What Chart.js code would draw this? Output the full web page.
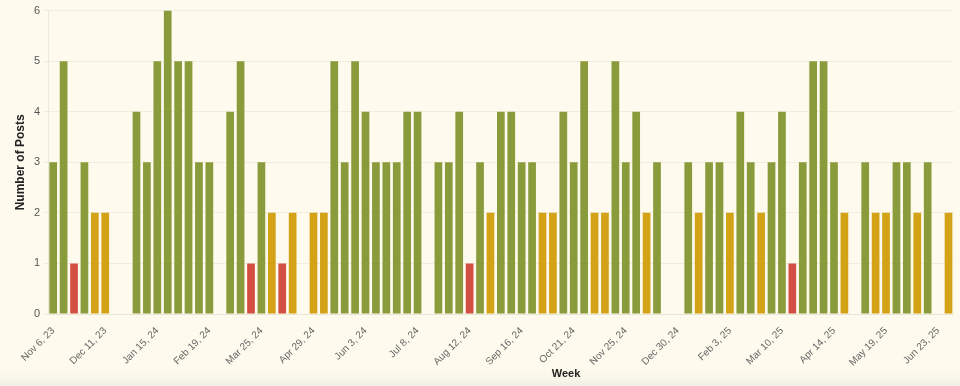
<!DOCTYPE html>
<html>
<head>
<meta charset="utf-8">
<script src="https://cdn.jsdelivr.net/npm/chart.js@4"></script>
<style>
    html, body { margin: 0; padding: 0; }
    body {
        width: 960px;
        height: 386px;
        background: linear-gradient(to bottom, #fefbee 0px, #fefbee 370px, #f1efe6 386px);
    }
    #wrap { position: relative; width: 960px; height: 386px; }
</style>
</head>
<body>
<div id="wrap"><canvas id="postsChart"></canvas></div>
<script>
// weekly post counts, week starting dates
const weeks = [
    'Nov 6, 23', 'Nov 13, 23', 'Nov 20, 23', 'Nov 27, 23', 'Dec 4, 23', 'Dec 11, 23', 'Dec 18, 23', 'Dec 25, 23',
    'Jan 1, 24', 'Jan 8, 24', 'Jan 15, 24', 'Jan 22, 24', 'Jan 29, 24', 'Feb 5, 24', 'Feb 12, 24', 'Feb 19, 24',
    'Feb 26, 24', 'Mar 4, 24', 'Mar 11, 24', 'Mar 18, 24', 'Mar 25, 24', 'Apr 1, 24', 'Apr 8, 24', 'Apr 15, 24',
    'Apr 22, 24', 'Apr 29, 24', 'May 6, 24', 'May 13, 24', 'May 20, 24', 'May 27, 24', 'Jun 3, 24', 'Jun 10, 24',
    'Jun 17, 24', 'Jun 24, 24', 'Jul 1, 24', 'Jul 8, 24', 'Jul 15, 24', 'Jul 22, 24', 'Jul 29, 24', 'Aug 5, 24',
    'Aug 12, 24', 'Aug 19, 24', 'Aug 26, 24', 'Sep 2, 24', 'Sep 9, 24', 'Sep 16, 24', 'Sep 23, 24', 'Sep 30, 24',
    'Oct 7, 24', 'Oct 14, 24', 'Oct 21, 24', 'Oct 28, 24', 'Nov 4, 24', 'Nov 11, 24', 'Nov 18, 24', 'Nov 25, 24',
    'Dec 2, 24', 'Dec 9, 24', 'Dec 16, 24', 'Dec 23, 24', 'Dec 30, 24', 'Jan 6, 25', 'Jan 13, 25', 'Jan 20, 25',
    'Jan 27, 25', 'Feb 3, 25', 'Feb 10, 25', 'Feb 17, 25', 'Feb 24, 25', 'Mar 3, 25', 'Mar 10, 25', 'Mar 17, 25',
    'Mar 24, 25', 'Mar 31, 25', 'Apr 7, 25', 'Apr 14, 25', 'Apr 21, 25', 'Apr 28, 25', 'May 5, 25', 'May 12, 25',
    'May 19, 25', 'May 26, 25', 'Jun 2, 25', 'Jun 9, 25', 'Jun 16, 25', 'Jun 23, 25', 'Jun 30, 25'
];

const posts = [
    3, 5, 1, 3, 2, 2, 0, 0, 4, 3, 5, 6, 5, 5, 3, 3,
    0, 4, 5, 1, 3, 2, 1, 2, 0, 2, 2, 5, 3, 5, 4, 3,
    3, 3, 4, 4, 0, 3, 3, 4, 1, 3, 2, 4, 4, 3, 3, 2,
    2, 4, 3, 5, 2, 2, 5, 3, 4, 2, 3, 0, 0, 3, 2, 3,
    3, 2, 4, 3, 2, 3, 4, 1, 3, 5, 5, 3, 2, 0, 3, 2,
    2, 3, 3, 2, 3, 0, 2
];

const yTicks = [0, 1, 2, 3, 4, 5, 6];

function barColor(v) {
    if (v <= 1) return '#d44f43';
    if (v === 2) return '#d3a217';
    return '#899b3b';
}

// "Week" sits right of the plot centre in the reference
const weekTitle = {
    id: 'weekTitle',
    afterDraw(chart) {
        const ctx = chart.ctx;
        ctx.save();
        ctx.font = 'bold 11px "Liberation Sans", Arial, sans-serif';
        ctx.fillStyle = '#222';
        ctx.textAlign = 'center';
        ctx.textBaseline = 'middle';
        ctx.fillText('Week', 566, 374);
        ctx.restore();
    }
};

const ctx = document.getElementById('postsChart').getContext('2d');
new Chart(ctx, {
    type: 'bar',
    data: {
        labels: weeks,
        datasets: [{
            label: 'Posts',
            data: posts,
            backgroundColor: posts.map(barColor),
            borderWidth: 0,
            categoryPercentage: 1.0,
            barPercentage: 0.74
        }]
    },
    options: {
        responsive: true,
        maintainAspectRatio: false,
        animation: false,
        layout: {
            padding: { top: 2, right: 2, left: 0, bottom: 0 }
        },
        plugins: {
            legend: { display: false },
            tooltip: { enabled: false }
        },
        scales: {
            x: {
                grid: { display: false },
                border: { display: true, color: '#e9e6d6' },
                ticks: {
                    autoSkip: false,
                    maxRotation: 45,
                    minRotation: 45,
                    color: '#666',
                    font: { family: '"Liberation Sans", Arial, sans-serif', size: 10 },
                    callback: function (value, index) {
                        return index % 5 === 0 ? weeks[index] : '';
                    }
                },
                afterFit: function (scale) {
                    scale.height = 72;
                }
            },
            y: {
                min: 0,
                max: 6,
                afterBuildTicks: function (scale) {
                    scale.ticks = yTicks.map(v => ({ value: v }));
                },
                grid: { color: '#f1eedf', drawTicks: true, tickLength: 4 },
                border: { display: true, color: '#ece9d8' },
                ticks: {
                    color: '#555',
                    padding: 4,
                    font: { family: '"Liberation Sans", Arial, sans-serif', size: 11 }
                },
                title: {
                    display: true,
                    text: 'Number of Posts',
                    color: '#222',
                    font: { family: '"Liberation Sans", Arial, sans-serif', size: 12, weight: 'bold' },
                    padding: { top: 13, bottom: 0 }
                },
                afterFit: function (scale) {
                    scale.width = 48;
                }
            }
        }
    },
    plugins: [weekTitle]
});
</script>
</body>
</html>
